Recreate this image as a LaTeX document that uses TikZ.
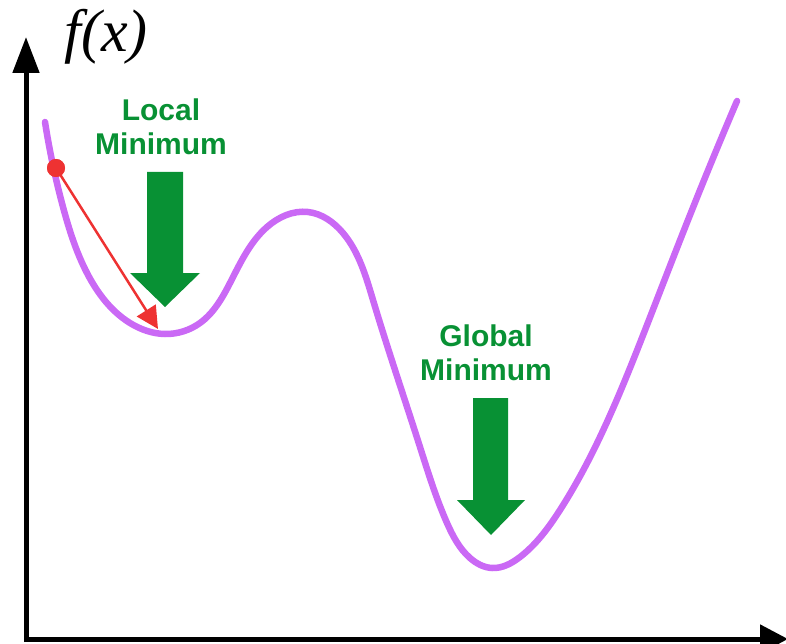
\documentclass[tikz,border=0pt]{standalone}
\usepackage{fontspec}
\newfontfamily\labelfont{Liberation Sans}
\newfontfamily\axisfont{Liberation Serif}
\usetikzlibrary{arrows.meta,hobby}
\definecolor{curvepurple}{RGB}{202,105,245}
\definecolor{mingreen}{RGB}{8,145,52}
\definecolor{dotred}{RGB}{238,50,50}
\tikzset{
  axisline/.style={line width=5pt},
  minlabel/.style={text=mingreen, font=\labelfont\bfseries\fontsize{30}{34}\selectfont, align=center, inner sep=0pt},
  blockarrow/.style={fill=mingreen, draw=none},
  costcurve/.style={draw=curvepurple, line width=6.5pt, line cap=round},
  stepdot/.style={circle, fill=dotred, minimum size=18pt, inner sep=0pt},
  steparrow/.style={draw=dotred, line width=2.5pt, -{Triangle[length=22pt,width=22pt]}}
}
\begin{document}
\begin{tikzpicture}[x=1pt,y=-1pt]
\useasboundingbox (0,0) rectangle (786,644);
% axes
\coordinate (ytop) at (26,37);
\coordinate (xend) at (788,639);
\draw[axisline,-{Triangle[length=36pt,width=26pt]}] (26,642) -- (ytop);
\draw[axisline,-{Triangle[length=28pt,width=28pt]}] (24,639) -- (xend);
\node[inner sep=0pt, anchor=base, font=\axisfont\itshape\fontsize{60}{64}\selectfont] (fx) at (106,52) {f(x)};
% curve
\draw[costcurve, use Hobby shortcut] (45,122) .. (63,207) .. (87,273) .. (130,323) .. (165,334)
 .. (200,323) .. (230,283) .. (267,227) .. (308,212) .. (343,233) .. (373,300) .. (395,370)
 .. (420,447) .. (447,523) .. (470,558) .. (492,568) .. (520,557) .. (560,510) .. (600,437)
 .. (647,325) .. (690,215) .. (737,101);
% labels
\node[minlabel] (localtxt) at (161,127) {Local\\Minimum};
\node[minlabel] (globaltxt) at (486,353) {Global\\Minimum};
% green arrows
\fill[blockarrow] (147,172) -- (183,172) -- (183,273) -- (200,273) -- (165,307) -- (130,273) -- (147,273) -- cycle;
\fill[blockarrow] (473,398) -- (508,398) -- (508,500) -- (525,500) -- (491,535) -- (457,500) -- (473,500) -- cycle;
% gradient step
\node[stepdot] (dot) at (56,168) {};
\coordinate (stepend) at (158,329);
\draw[steparrow] (dot.center) -- (stepend);
\node[stepdot] at (56,168) {};
\end{tikzpicture}
\end{document}
